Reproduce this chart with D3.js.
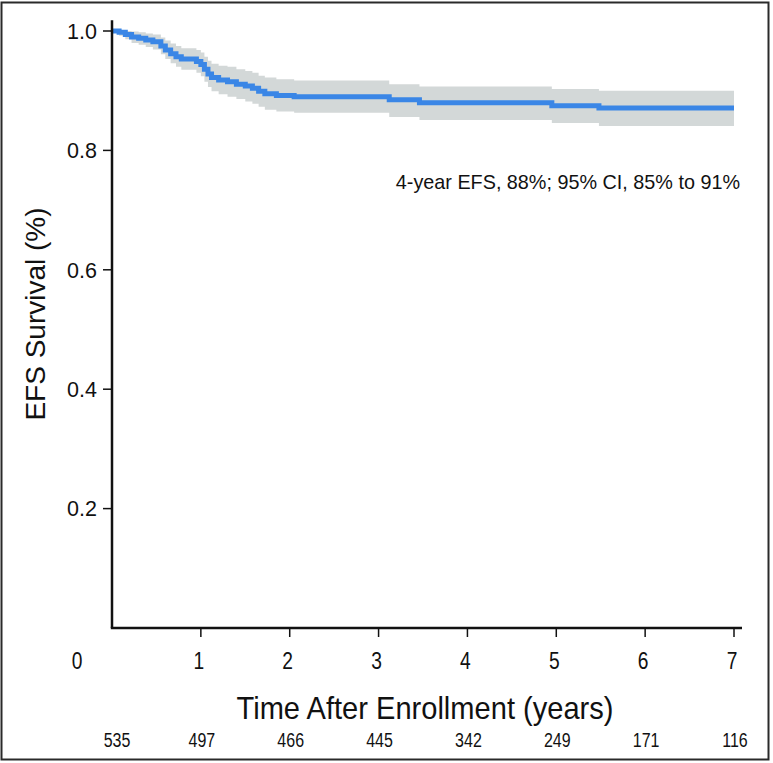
<!DOCTYPE html>
<html>
<head>
<meta charset="utf-8">
<script src="https://cdn.jsdelivr.net/npm/d3@7"></script>
<style>
  html, body { margin: 0; padding: 0; background: #fff; }
  svg { display: block; }
</style>
</head>
<body>
<svg id="chart" width="773" height="763"></svg>
<script>
// ---- data ----
const times = [0, 0.08, 0.15, 0.22, 0.30, 0.38, 0.46, 0.55, 0.60, 0.66, 0.72, 0.78, 0.95, 1.00, 1.04, 1.08, 1.12, 1.20, 1.30, 1.40, 1.50, 1.58, 1.65, 1.72, 1.85, 2.05, 3.12, 3.46, 4.95, 5.48, 7.0];
const surv  = [1.0, 0.998, 0.994, 0.990, 0.988, 0.985, 0.982, 0.975, 0.968, 0.962, 0.957, 0.953, 0.949, 0.944, 0.936, 0.928, 0.922, 0.918, 0.915, 0.911, 0.908, 0.904, 0.899, 0.895, 0.892, 0.890, 0.885, 0.880, 0.875, 0.871, 0.871];
const lower = [1.0, 0.992, 0.986, 0.980, 0.977, 0.973, 0.969, 0.961, 0.953, 0.946, 0.940, 0.935, 0.930, 0.924, 0.915, 0.906, 0.899, 0.894, 0.890, 0.886, 0.882, 0.878, 0.873, 0.868, 0.865, 0.863, 0.856, 0.851, 0.846, 0.841, 0.841];
const upper = [1.0, 1.0, 1.0, 0.999, 0.998, 0.996, 0.994, 0.989, 0.984, 0.979, 0.975, 0.971, 0.968, 0.964, 0.957, 0.950, 0.945, 0.942, 0.940, 0.936, 0.933, 0.930, 0.925, 0.922, 0.919, 0.917, 0.911, 0.907, 0.903, 0.900, 0.900];
const yTicks = [0.2, 0.4, 0.6, 0.8, 1.0];
const yTickLabels = ["0.2", "0.4", "0.6", "0.8", "1.0"];
const xTicks = [0, 1, 2, 3, 4, 5, 6, 7];
const atRisk = [535, 497, 466, 445, 342, 249, 171, 116];
const annotation = "4-year EFS, 88%; 95% CI, 85% to 91%";
const xTitle = "Time After Enrollment (years)";
const yTitle = "EFS Survival (%)";

// ---- drawing ----
const svg = d3.select("#chart");
const x = d3.scaleLinear().domain([0, 7]).range([112, 734]);
const y = d3.scaleLinear().domain([0, 1]).range([628, 31]);

const sans = "'Liberation Sans', Arial, Helvetica, sans-serif";
const condensed = 0.8;

// outer frame
svg.append("rect")
  .attr("x", 1.5).attr("y", 2.5).attr("width", 767).attr("height", 757)
  .attr("fill", "none").attr("stroke", "#2a2a2a").attr("stroke-width", 2);

const km = times.map((t, i) => ({t, s: surv[i], lo: lower[i], hi: upper[i]}));

// CI band
svg.append("path")
  .datum(km)
  .attr("fill", "#d3d8d8")
  .attr("d", d3.area().curve(d3.curveStepAfter)
    .x(d => x(d.t)).y0(d => y(d.lo)).y1(d => y(d.hi)));

// KM line
svg.append("path")
  .datum(km)
  .attr("fill", "none")
  .attr("stroke", "#3a86e6")
  .attr("stroke-width", 5)
  .attr("d", d3.line().curve(d3.curveStepAfter).x(d => x(d.t)).y(d => y(d.s)));

// axes lines
svg.append("line")
  .attr("x1", x(0)).attr("x2", x(0)).attr("y1", y(1.018)).attr("y2", y(0))
  .attr("stroke", "#111").attr("stroke-width", 2.5);
svg.append("line")
  .attr("x1", x(0) - 1.2).attr("x2", x(7.09)).attr("y1", y(0)).attr("y2", y(0))
  .attr("stroke", "#111").attr("stroke-width", 2.5);

// y ticks
const yg = svg.append("g");
yTicks.forEach((v, i) => {
  yg.append("line").attr("x1", x(0) - 9).attr("x2", x(0)).attr("y1", y(v)).attr("y2", y(v))
    .attr("stroke", "#111").attr("stroke-width", 1.5);
  yg.append("text").attr("x", x(0) - 15).attr("y", y(v)).attr("dy", "0.36em")
    .attr("text-anchor", "end").attr("font-family", sans).attr("font-size", 21.5)
    .attr("fill", "#111").text(yTickLabels[i]);
});

// x ticks + numbers at risk
const xg = svg.append("g");
xTicks.forEach((v, i) => {
  if (v > 0) {
    xg.append("line").attr("x1", x(v)).attr("x2", x(v)).attr("y1", y(0)).attr("y2", y(0) + 9)
      .attr("stroke", "#111").attr("stroke-width", 1.5);
  }
  const lx = v === 0 ? x(v) - 35 : x(v) - 2;
  xg.append("text").attr("transform", `translate(${lx},669) scale(${condensed},1)`)
    .attr("text-anchor", "middle").attr("font-family", sans).attr("font-size", 24)
    .attr("fill", "#111").text(v);
  const rx = v === 0 ? x(v) + 5 : x(v) + 1;
  xg.append("text").attr("transform", `translate(${rx},747) scale(${condensed},1)`)
    .attr("text-anchor", "middle").attr("font-family", sans).attr("font-size", 20)
    .attr("fill", "#111").text(atRisk[i]);
});

// titles
svg.append("text").attr("x", 425).attr("y", 719)
  .attr("text-anchor", "middle").attr("font-family", sans).attr("font-size", 32)
  .attr("textLength", 377).attr("lengthAdjust", "spacingAndGlyphs")
  .attr("fill", "#111").text(xTitle);

svg.append("text").attr("transform", "translate(45,314) rotate(-90)")
  .attr("text-anchor", "middle").attr("font-family", sans).attr("font-size", 28)
  .attr("fill", "#111").text(yTitle);

// annotation
svg.append("text").attr("x", 740).attr("y", 189)
  .attr("text-anchor", "end").attr("font-family", sans).attr("font-size", 19.8)
  .attr("fill", "#111").text(annotation);
</script>
</body>
</html>
